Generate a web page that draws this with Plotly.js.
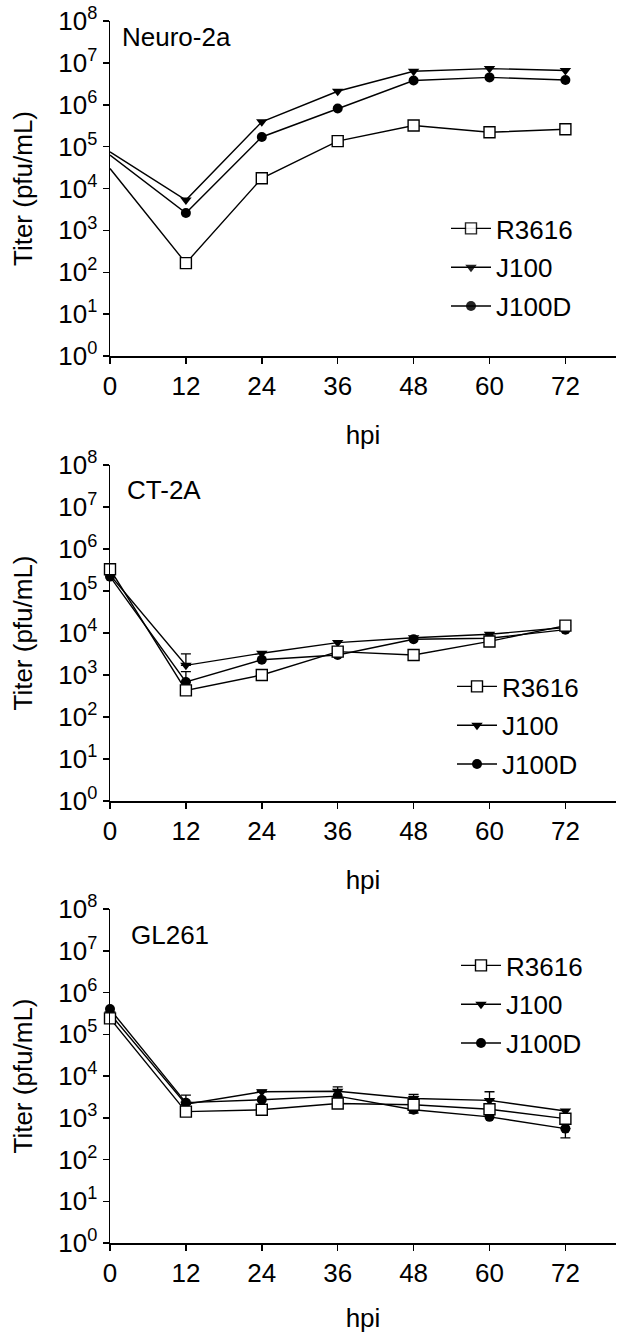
<!DOCTYPE html>
<html>
<head>
<meta charset="utf-8">
<script src="https://cdn.plot.ly/plotly-3.0.1.min.js"></script>
<style>html,body{margin:0;padding:0;background:#fff;}</style>
</head>
<body>
<div id="chart" style="width:624px;height:1333px;"></div>
<script>
// ---- data ----
const hpi = [0, 12, 24, 36, 48, 60, 72];
const xTickVals = [0, 12, 24, 36, 48, 60, 72];
const yTickVals = [1, 10, 100, 1e3, 1e4, 1e5, 1e6, 1e7, 1e8];
const yTickText = ['10<sup>0</sup>','10<sup>1</sup>','10<sup>2</sup>','10<sup>3</sup>','10<sup>4</sup>','10<sup>5</sup>','10<sup>6</sup>','10<sup>7</sup>','10<sup>8</sup>'];
const seriesNames = ['R3616', 'J100', 'J100D'];
const panelNames = ['Neuro-2a', 'CT-2A', 'GL261'];

// Neuro-2a
const neuro_R3616 = [3.0e4, 1.65e2, 1.75e4, 1.35e5, 3.2e5, 2.2e5, 2.6e5];
const neuro_J100  = [7.5e4, 5.3e3, 3.9e5, 2.1e6, 6.3e6, 7.3e6, 6.6e6];
const neuro_J100D = [6.3e4, 2.6e3, 1.7e5, 8.1e5, 3.8e6, 4.5e6, 3.9e6];
const neuro_R3616_errUp = [NaN, NaN, 4000, NaN, NaN, NaN, NaN];
const neuro_R3616_errDn = [NaN, NaN, 3000, NaN, NaN, NaN, NaN];

// CT-2A
const ct_R3616 = [3.3e5, 4.3e2, 1.0e3, 3.6e3, 3.0e3, 6.3e3, 1.5e4];
const ct_J100  = [2.4e5, 1.7e3, 3.3e3, 5.9e3, 7.7e3, 9.3e3, 1.35e4];
const ct_J100D = [2.2e5, 6.8e2, 2.3e3, 3.0e3, 7.1e3, 7.5e3, 1.2e4];
const ct_J100_errUp  = [NaN, 1500, NaN, NaN, NaN, NaN, NaN];
const ct_J100D_errUp = [NaN, 520, NaN, NaN, NaN, NaN, NaN];

// GL261
const gl_R3616 = [2.4e5, 1.4e3, 1.55e3, 2.2e3, 2.05e3, 1.6e3, 9.5e2];
const gl_J100  = [3.1e5, 2.1e3, 4.2e3, 4.3e3, 2.9e3, 2.6e3, 1.45e3];
const gl_J100D = [4.0e5, 2.3e3, 2.7e3, 3.3e3, 1.55e3, 1.05e3, 5.5e2];
const gl_J100_errUp  = [NaN, 1400, 400, 1200, 700, 1600, NaN];
const gl_J100D_errDn = [NaN, NaN, NaN, NaN, 250, NaN, 220];

// ---- build ----
const panels = [
  {R3616: neuro_R3616, J100: neuro_J100, J100D: neuro_J100D,
   err: {R3616: [neuro_R3616_errUp, neuro_R3616_errDn]}, hideFirst: true},
  {R3616: ct_R3616, J100: ct_J100, J100D: ct_J100D,
   err: {J100: [ct_J100_errUp, null], J100D: [ct_J100D_errUp, null]}, hideFirst: false},
  {R3616: gl_R3616, J100: gl_J100, J100D: gl_J100D,
   err: {J100: [gl_J100_errUp, null], J100D: [null, gl_J100D_errDn]}, hideFirst: false}
];

const markerStyle = {
  R3616: {symbol: 'square', size: 11, color: '#fff', line: {width: 1.4, color: '#000'}},
  J100:  {symbol: 'triangle-down', size: 10, color: '#000', line: {width: 0}},
  J100D: {symbol: 'circle', size: 10, color: '#000', line: {width: 0}}
};
const drawOrder = ['J100', 'J100D', 'R3616'];
const rank = {R3616: 1, J100: 2, J100D: 3};
const legendIds = ['legend', 'legend2', 'legend3'];

const traces = [];
panels.forEach((p, i) => {
  const ax = i === 0 ? '' : String(i + 1);
  drawOrder.forEach(name => {
    const n = p[name].length;
    const opac = p[name].map((v, k) => (p.hideFirst && k === 0) ? 0 : 1);
    const ms = Object.assign({}, markerStyle[name], {opacity: opac});
    const t = {
      type: 'scatter', mode: 'lines+markers', name: name,
      x: hpi, y: p[name],
      xaxis: 'x' + ax, yaxis: 'y' + ax,
      line: {color: '#000', width: 1.4},
      marker: ms,
      legend: legendIds[i], legendgroup: 'g' + i + name, legendrank: rank[name],
      cliponaxis: false
    };
    const e = p.err[name];
    if (e) {
      const up = e[0] || new Array(n).fill(NaN);
      const dn = e[1] || new Array(n).fill(NaN);
      t.error_y = {type: 'data', symmetric: false, array: up, arrayminus: dn,
                   color: '#000', thickness: 1.3, width: 5, visible: true};
    }
    traces.push(t);
  });
});

const L = 110, R = 8, T = 21, B = 90, W = 624, H = 1333;
const plotH = H - T - B, plotW = W - L - R;
function py(px) { return (H - B - px) / plotH; }
function pxr(px) { return (px - L) / plotW; }

const fontFam = 'Liberation Sans, Arial, sans-serif';
const FS = 26;
function xAxis(anchor) {
  return {
    anchor: anchor, domain: [0, 1], range: [0, 80],
    tickvals: xTickVals, ticktext: xTickVals.map(String),
    ticks: 'outside', ticklen: 6, tickwidth: 1.5, tickcolor: '#000',
    showline: true, linewidth: 1.5, linecolor: '#000',
    showgrid: false, zeroline: false,
    tickfont: {size: FS, color: '#000', family: fontFam},
    title: {text: 'hpi', font: {size: FS, color: '#000', family: fontFam}, standoff: 26},
    fixedrange: true
  };
}
function yAxis(anchor, dom) {
  return {
    anchor: anchor, domain: dom, type: 'log', range: [0, 8],
    tickvals: yTickVals, ticktext: yTickText,
    ticks: 'outside', ticklen: 6, tickwidth: 1.5, tickcolor: '#000',
    showline: true, linewidth: 1.5, linecolor: '#000',
    showgrid: false, zeroline: false,
    tickfont: {size: FS, color: '#000', family: fontFam},
    title: {text: 'Titer (pfu/mL)', font: {size: FS, color: '#000', family: fontFam}, standoff: 18},
    fixedrange: true
  };
}
function legendAt(xpx, ypx) {
  return {
    x: pxr(xpx), y: py(ypx), xanchor: 'left', yanchor: 'top',
    xref: 'paper', yref: 'paper',
    bgcolor: 'rgba(0,0,0,0)', borderwidth: 0,
    font: {size: FS, color: '#000', family: fontFam},
    traceorder: 'grouped', tracegroupgap: 2, itemwidth: 40
  };
}

const layout = {
  width: W, height: H,
  margin: {l: L, r: R, t: T, b: B},
  paper_bgcolor: '#fff', plot_bgcolor: '#fff',
  font: {family: fontFam, color: '#000'},
  showlegend: true,
  xaxis: xAxis('y'), xaxis2: xAxis('y2'), xaxis3: xAxis('y3'),
  yaxis: yAxis('x', [py(356), py(21)]),
  yaxis2: yAxis('x2', [py(801), py(465)]),
  yaxis3: yAxis('x3', [py(1243), py(909)]),
  legend: legendAt(446, 205),
  legend2: legendAt(452, 663),
  legend3: legendAt(456, 942),
  annotations: [
    {text: panelNames[0], xref: 'paper', yref: 'paper', x: pxr(120), y: py(37), xanchor: 'left', yanchor: 'middle', showarrow: false, font: {size: FS, color: '#000', family: fontFam}},
    {text: panelNames[1], xref: 'paper', yref: 'paper', x: pxr(125), y: py(490), xanchor: 'left', yanchor: 'middle', showarrow: false, font: {size: FS, color: '#000', family: fontFam}},
    {text: panelNames[2], xref: 'paper', yref: 'paper', x: pxr(129), y: py(935), xanchor: 'left', yanchor: 'middle', showarrow: false, font: {size: FS, color: '#000', family: fontFam}}
  ]
};

Plotly.newPlot('chart', traces, layout, {displayModeBar: false, staticPlot: true});
</script>
</body>
</html>
